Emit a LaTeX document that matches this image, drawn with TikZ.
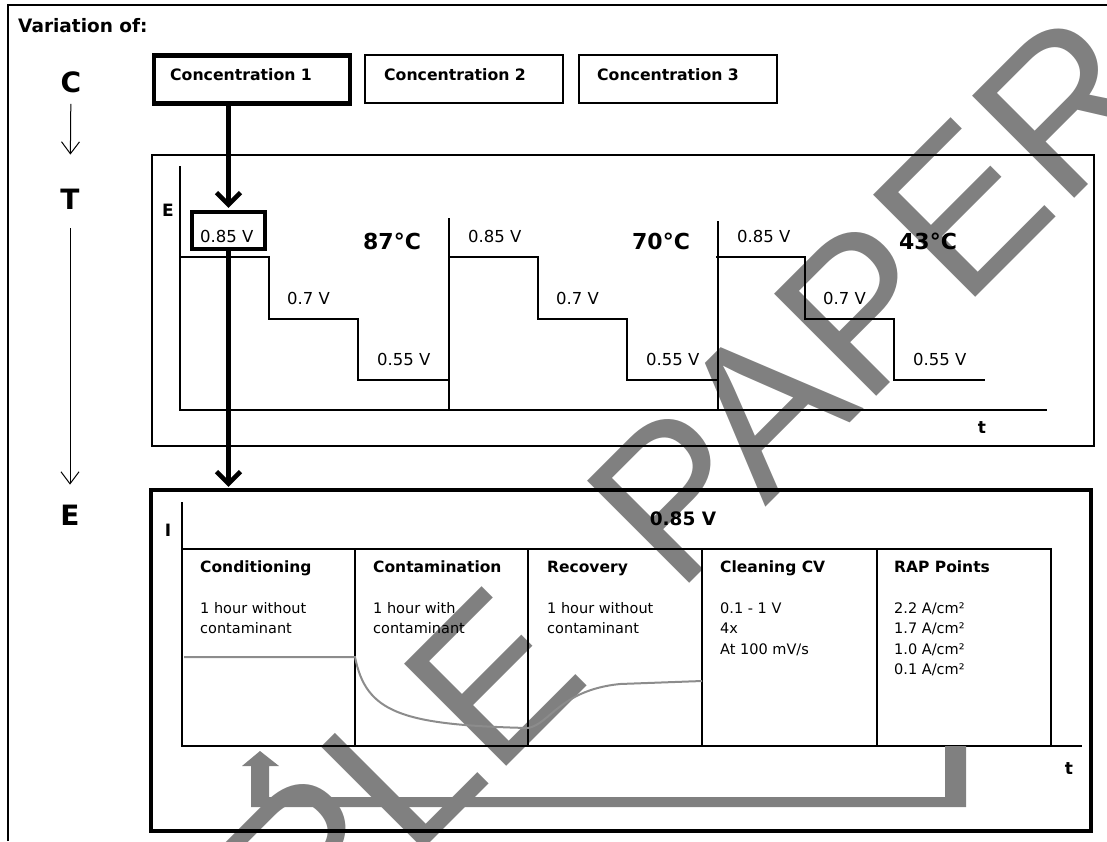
\documentclass[tikz,border=0pt]{standalone}
\usepackage{fontspec}
\setmainfont{DejaVu Sans}
\newfontfamily\wmfont{Liberation Sans}
\usetikzlibrary{arrows.meta,positioning,calc}

\begin{document}
\begin{tikzpicture}[x=1pt,y=-1pt,
  thinline/.style={line width=1.2pt},
  thinbox/.style={draw,line width=1.3pt,inner sep=0pt},
  thickbox/.style={draw,line width=4.5pt,inner sep=0pt},
  concbox/.style={draw,inner sep=0pt,minimum height=48pt},
  conclabel/.style={anchor=west,inner sep=0pt,font=\bfseries\fontsize{15.7}{18}\selectfont},
  bigletter/.style={inner sep=0pt,font=\bfseries\fontsize{28}{30}\selectfont},
  vtext/.style={anchor=west,inner sep=0pt,font=\fontsize{16.5}{18}\selectfont},
  temp/.style={inner sep=0pt,font=\bfseries\fontsize{22}{24}\selectfont},
  axlabel/.style={inner sep=0pt,font=\bfseries\fontsize{17}{18}\selectfont},
  head/.style={anchor=west,inner sep=0pt,text height=12pt,text depth=3.5pt,
    font=\bfseries\fontsize{15.5}{18}\selectfont},
  body/.style={anchor=west,inner sep=0pt,text height=11pt,text depth=3pt,font=\fontsize{14.5}{17}\selectfont},
  thinarrow/.style={line width=1pt,-{Straight Barb[length=12pt,width=18pt]}},
  bigarrow/.style={line width=4.5pt,-{Straight Barb[length=12pt,width=24pt]}},
  curve/.style={line width=2pt,black!45},
  wmark/.style={inner sep=0pt,anchor=base west,rotate=45,text=black!50,
    font=\wmfont\fontsize{210}{210}\selectfont}
]
\useasboundingbox (0,0) rectangle (1107,841);

% watermark
\begin{scope}
\clip (0,0) rectangle (1107,841);
\node[wmark] (wm1) at (-9,1282) {SAMPLE};
\node[wmark] (wm2) at (677.6,595.4) {PAPER};
\end{scope}

% outer frame
\draw[line width=1.3pt] (8,841) -- (8,5) -- (1107,5);
\node[anchor=west,inner sep=0pt,font=\bfseries\fontsize{18.5}{20}\selectfont] (title) at (18,26) {Variation of:};

% left column
\node[bigletter] (cC) at (71,82) {C};
\node[bigletter] (cT) at (70,199) {T};
\node[bigletter] (cE) at (70,515) {E};
\draw[thinarrow,shorten <=11pt,shorten >=34pt] (cC) -- (cT);
\draw[thinarrow,shorten <=19pt,shorten >=20pt] (cT) -- (cE);

% concentrations
\node[concbox,line width=4.5pt,minimum width=196pt] (conc1) at (252,79.5) {};
\node[concbox,line width=1.3pt,minimum width=198pt] (conc2) at (464,79) {};
\node[concbox,line width=1.3pt,minimum width=198pt] (conc3) at (678,79) {};
\node[conclabel] (c1) at (170,75) {Concentration 1};
\node[conclabel] (c2) at (384,75) {Concentration 2};
\node[conclabel] (c3) at (597,75) {Concentration 3};

% temperature chart
\node[thinbox,minimum width=942pt,minimum height=291pt] (tbox) at (623,300.5) {};
\draw[thinline] (180,166) -- (180,410) -- (1047,410);
\node[axlabel] (tE) at (168,210) {E};
\node[axlabel] (tt) at (982,428) {t};
\draw[thinline] (449,218) -- (449,410);
\draw[thinline] (718,221) -- (718,410);
\foreach \s/\tc in {0/87,269/70,536/43} {
  \draw[thinline] (180+\s,257) -- (269+\s,257) -- (269+\s,319) -- (358+\s,319)
    -- (358+\s,380) -- (449+\s,380);
  \node[temp] at (392+\s,241) {\tc°C};
  \node[vtext] at (287+\s,298) {0.7 V};
  \node[vtext] at (377+\s,359) {0.55 V};
}
\node[vtext] (v1) at (200,236) {0.85 V};
\node[vtext] (v2) at (468,236) {0.85 V};
\node[vtext] (v3) at (737,236) {0.85 V};
\node[thickbox,minimum width=73pt,minimum height=37pt] (vbox) at (228.5,230.5) {};

% potential chart
\node[thickbox,minimum width=940pt,minimum height=341pt] (ebox) at (621,660.5) {};
\draw[thinline] (182,502) -- (182,746) -- (1082,746);
\node[axlabel] (eI) at (168,530) {I};
\node[axlabel] (et) at (1069,769) {t};
\node[axlabel,font=\bfseries\fontsize{18.5}{20}\selectfont] (etitle) at (683,519) {0.85 V};
\draw[thinline] (182,549) -- (1051,549) -- (1051,746);
\foreach \c in {355,528,702,877} \draw[thinline] (\c,549) -- (\c,746);

\node[head] (h1) at (200,568) {Conditioning};
\node[head] (h2) at (373,568) {Contamination};
\node[head] (h3) at (547,568) {Recovery};
\node[head] (h4) at (720,568) {Cleaning CV};
\node[head] (h5) at (894,568) {RAP Points};

\node[body] at (200,609) {1 hour without};
\node[body] at (200,629) {contaminant};
\node[body] at (373,609) {1 hour with};
\node[body] at (373,629) {contaminant};
\node[body] at (547,609) {1 hour without};
\node[body] at (547,629) {contaminant};
\node[body] at (720,609) {0.1 - 1 V};
\node[body] at (720,629) {4x};
\node[body] at (720,650) {At 100 mV/s};
\node[body] at (894,609) {2.2 A/cm²};
\node[body] at (894,629) {1.7 A/cm²};
\node[body] at (894,650) {1.0 A/cm²};
\node[body] at (894,670) {0.1 A/cm²};

% current response
\draw[curve] (184,657) -- (355,657) .. controls (366,712) and (400,725) .. (528,728)
  .. controls (550,724) and (560,690) .. (620,684) -- (702,681);

% loop back
\fill[black!50] (260,751) -- (279,766) -- (269,766) -- (269,797) -- (945,797) -- (945,746)
  -- (966,746) -- (966,807) -- (251,807) -- (251,766) -- (242,766) -- cycle;

% flow arrows
\draw[bigarrow,shorten >=2pt] (vbox.north |- conc1.south) -- (vbox.north);
\draw[bigarrow,shorten >=1pt] (vbox.south) -- (vbox.south |- ebox.north);
\end{tikzpicture}
\end{document}
